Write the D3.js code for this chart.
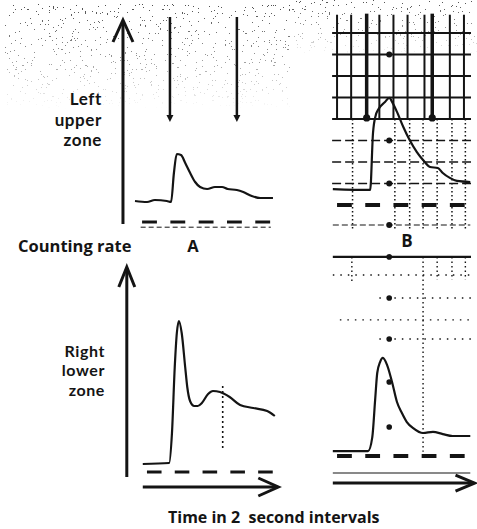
<!DOCTYPE html>
<html lang="en">
<head>
<meta charset="utf-8">
<title>Counting rate curves</title>
<script src="https://cdn.jsdelivr.net/npm/d3@7"></script>
<style>
  body { margin: 0; background: #fff; }
  text { font-family: "Open Sans", Lato, sans-serif; font-weight: 700; fill: #141414; }
  text.zone { font-family: Lato, "Open Sans", sans-serif; letter-spacing: 0.6px; }
</style>
</head>
<body>
<script>
// traces: [time in seconds, counting rate in arbitrary units]
var upperA = [[0,10.5],[0.85,10],[1.4,11],[2.25,10.5],[2.55,10],[2.75,24.5],[2.95,34],[3.25,33.5],
  [3.55,29.5],[3.9,24.5],[4.25,20],[4.6,17.5],[5.1,16.5],[5.65,17.5],[6.15,17.5],[6.55,16.5],
  [7.2,16],[7.65,15],[8.25,13],[8.85,12],[9.75,12]];
var lowerA = [[0.2,4],[2.1,4.5],[2.3,19.5],[2.5,52.5],[2.65,69.5],[2.8,75.5],[3.0,69.5],[3.25,52.5],
  [3.4,42.5],[3.6,35.5],[3.9,33],[4.15,33],[4.45,34.5],[4.9,39],[5.25,40.5],[5.75,40],[6.45,37.5],
  [7.2,33.5],[8.15,32],[9.15,30.5],[9.7,28]];
var upperB = [[0.2,7.4],[2.85,7],[3.05,33.5],[3.25,41.9],[3.4,44.2],[3.9,47.9],[4.2,49.8],[4.45,47.4],
  [4.75,43.3],[5.2,36.3],[5.65,30.2],[6.15,24.7],[6.6,20.9],[7.1,17.7],[7.65,17.2],[8.0,14.9],
  [8.5,12.6],[9.0,11.2],[9.95,10.7]];
var lowerB = [[0.2,2.3],[2.7,2.3],[3.0,8.8],[3.2,26],[3.35,38.6],[3.55,43.7],[3.75,45.6],[4.05,42.3],
  [4.4,34.4],[4.75,25.1],[5.1,20],[5.45,15.8],[5.9,13],[6.6,10.7],[7.3,11.2],[8.0,10.2],[8.7,9.3],[9.95,9.3]];

// 2 second time marks (start of each dash, in seconds)
var timeMarks = [0.5, 2.5, 4.5, 6.5, 8.5];
var markLength = 1.05;

// injection arrows (time, seconds)
var arrowsA = [2.47, 7.2];
var arrowsB = [2.6, 7.25];

// grid of record B
var solidRowsB = [80, 70, 60, 50, 40];
var dashedRowsB = [30, 20, 10];
var solidColsB = [0.5, 1.5, 3.5, 4.5, 5.5, 6.7, 8.5, 9.5];
var dottedColsB = [1.6, 4.6, 5.65, 6.6, 7.6, 8.65, 9.6];
var dotsB = [70, 30, 10, -9.3];
var dotsB2 = [92.6, 73.5, 54.4, 34.4, 13.5];
var dottedRowsB2 = [[84.2, 0.2], [73.5, 3.5], [63.3, 0.7], [54.4, 3.5]];
var dottedColsB2 = [[1.55, 80], [6.6, 2], [7.6, 82], [8.65, 82], [9.6, 82]];

var width = 477, height = 529;
var ink = "#141414";

var svg = d3.select("body").append("svg")
    .attr("width", width)
    .attr("height", height);

// speckled paper texture at the top of the scan
var defs = svg.append("defs");
var f = defs.append("filter").attr("id", "speckle")
    .attr("x", 0).attr("y", 0).attr("width", 1).attr("height", 1);
f.append("feTurbulence").attr("type", "fractalNoise").attr("baseFrequency", 0.55)
    .attr("numOctaves", 2).attr("seed", 7);
f.append("feColorMatrix").attr("type", "matrix")
    .attr("values", "0 0 0 0 0.08  0 0 0 0 0.08  0 0 0 0 0.08  1 0 0 0 0");
f.append("feComponentTransfer").append("feFuncA").attr("type", "discrete")
    .attr("tableValues", "0 0 0 0 0 0 0 0 0 0 0 0 0 0 0 0 0 0 1 1 1 1 1 1 1");
var grad = defs.append("linearGradient").attr("id", "fade")
    .attr("x1", 0).attr("y1", 0).attr("x2", 0).attr("y2", 1);
grad.append("stop").attr("offset", 0).attr("stop-color", "#fff").attr("stop-opacity", 1);
grad.append("stop").attr("offset", 0.5).attr("stop-color", "#fff").attr("stop-opacity", 0.6);
grad.append("stop").attr("offset", 1).attr("stop-color", "#fff").attr("stop-opacity", 0);
defs.append("mask").attr("id", "fadeMask").attr("maskContentUnits", "objectBoundingBox")
    .append("rect").attr("width", 1).attr("height", 1).attr("fill", "url(#fade)");
svg.append("rect").attr("x", 5).attr("y", 4).attr("width", 285).attr("height", 105)
    .attr("filter", "url(#speckle)").attr("mask", "url(#fadeMask)");
svg.append("rect").attr("x", 292).attr("y", 0).attr("width", 185).attr("height", 55)
    .attr("filter", "url(#speckle)").attr("mask", "url(#fadeMask)");

var xA = d3.scaleLinear().domain([0, 10]).range([135, 276.5]);
var yA = d3.scaleLinear().domain([0, 100]).range([222, 22]);
var xA2 = d3.scaleLinear().domain([0, 10]).range([140, 279]);
var yA2 = d3.scaleLinear().domain([0, 100]).range([472, 272]);
var xB = d3.scaleLinear().domain([0, 10]).range([330, 471]);
var yB = d3.scaleLinear().domain([0, 100]).range([205, -10]);
var yB2 = d3.scaleLinear().domain([0, 100]).range([456, 241]);

function seg(x1, y1, x2, y2, w, dash) {
    var l = svg.append("line")
        .attr("x1", x1).attr("y1", y1).attr("x2", x2).attr("y2", y2)
        .attr("stroke", ink).attr("stroke-width", w);
    if (dash) l.attr("stroke-dasharray", dash);
    return l;
}

// open chevron arrow head, dir = "up" or "right"
function chevron(x, y, dir, len, spread, w) {
    var p = dir === "up"
        ? [[x - spread, y + len], [x, y], [x + spread, y + len]]
        : [[x - len, y - spread], [x, y], [x - len, y + spread]];
    svg.append("path")
        .attr("d", d3.line()(p))
        .attr("fill", "none").attr("stroke", ink)
        .attr("stroke-width", w).attr("stroke-linejoin", "miter");
}

function trace(data, x, y) {
    svg.append("path")
        .datum(data)
        .attr("d", d3.line().x(function(d) { return x(d[0]); }).y(function(d) { return y(d[1]); })
            .curve(d3.curveMonotoneX))
        .attr("fill", "none").attr("stroke", ink).attr("stroke-width", 2.2)
        .attr("stroke-linejoin", "round");
}

function marks(x, y, w) {
    svg.append("g").selectAll("line")
        .data(timeMarks).enter().append("line")
        .attr("x1", function(d) { return x(d); })
        .attr("x2", function(d) { return x(d + markLength); })
        .attr("y1", y(0)).attr("y2", y(0))
        .attr("stroke", ink).attr("stroke-width", w);
}

// ---- record A, left upper zone
seg(xA(-0.85), yA(-1), xA(-0.85), yA(100.5), 3);
chevron(xA(-0.85), yA(101), "up", 22, 10, 3);
arrowsA.forEach(function(t) {
    seg(xA(t), yA(102.5), xA(t), yA(53), 2.5);
    svg.append("path")
        .attr("d", d3.line()([[xA(t) - 3.5, yA(53.5)], [xA(t) + 3.5, yA(53.5)], [xA(t), yA(50)]]))
        .attr("fill", ink);
});
trace(upperA, xA, yA);
marks(xA, yA, 3);
seg(xA(0.4), yA(-2.6), xA(9.6), yA(-2.6), 1, "5 3");

// ---- record A, right lower zone
seg(xA2(-0.95), yA2(-2.5), xA2(-0.95), yA2(102), 3);
chevron(xA2(-0.95), yA2(102.5), "up", 20, 8, 3);
trace(lowerA, xA2, yA2);
seg(xA2(5.95), yA2(12), xA2(5.95), yA2(43.5), 1.6, "2 3");
marks(xA2, yA2, 3);
seg(xA2(0.2), yA2(-7.5), xA2(9.85), yA2(-7.5), 3);
chevron(xA2(9.95), yA2(-7.5), "right", 20, 9, 3);

// ---- record B, left upper zone
solidRowsB.forEach(function(r) { seg(xB(0.15), yB(r), xB(10), yB(r), 2); });
dashedRowsB.forEach(function(r) { seg(xB(0.15), yB(r), xB(10), yB(r), 1.6, "9 4"); });
solidColsB.forEach(function(t) { seg(xB(t), yB(88.5), xB(t), yB(40), 2); });
dottedColsB.forEach(function(t) { seg(xB(t), yB(40), xB(t), yB(-11), 1.5, "1.5 2.5"); });
arrowsB.forEach(function(t) {
    seg(xB(t), yB(89), xB(t), yB(41), 3.5);
    svg.append("circle").attr("cx", xB(t)).attr("cy", yB(40.5)).attr("r", 3.6).attr("fill", ink);
});
dotsB.forEach(function(r) {
    svg.append("circle").attr("cx", xB(4.2)).attr("cy", yB(r)).attr("r", 3).attr("fill", ink);
});
trace(upperB, xB, yB);
marks(xB, yB, 4);
seg(xB(0.2), yB(-9.3), xB(9.95), yB(-9.3), 1.2, "6 3");

// ---- record B, right lower zone
seg(xB(0.2), yB2(92.6), xB(10), yB2(92.6), 2.2);
dottedRowsB2.forEach(function(d) { seg(xB(d[1]), yB2(d[0]), xB(10), yB2(d[0]), 1.4, "1.5 6"); });
dottedColsB2.forEach(function(d) { seg(xB(d[0]), yB2(92.6), xB(d[0]), yB2(d[1]), 1.4, "1.5 3"); });
dotsB2.forEach(function(r) {
    svg.append("circle").attr("cx", xB(4.2)).attr("cy", yB2(r)).attr("r", 2.8).attr("fill", ink);
});
trace(lowerB, xB, yB2);
marks(xB, yB2, 4);
seg(xB(0.2), yB2(-7.9), xB(9.95), yB2(-7.9), 1.2);
seg(xB(0.2), yB2(-12.6), xB(10.1), yB2(-12.6), 3);
chevron(xB(10.25), yB2(-12.6), "right", 19, 8, 3);

// ---- labels
function label(lines, x, y, size, anchor, weight, lh, cls) {
    var t = svg.append("text").attr("y", y)
        .attr("class", cls || null)
        .attr("font-size", size).attr("font-weight", weight || 700)
        .attr("text-anchor", anchor || "start");
    lines.forEach(function(s, i) {
        t.append("tspan").attr("x", x).attr("dy", i ? lh : 0).text(s);
    });
}
label(["Left", "upper", "zone"], 102, 105, 17, "end", 900, 20.5, "zone");
label(["Counting rate"], 18, 252, 16.5);
label(["A"], 193, 252, 16.5, "middle");
label(["B"], 407, 247, 17, "middle");
label(["Right", "lower", "zone"], 105, 357, 16, "end", 800, 19.3, "zone");
label(["Time in 2\u00a0 second intervals"], 168, 523, 16, "start", 600);
</script>
</body>
</html>
